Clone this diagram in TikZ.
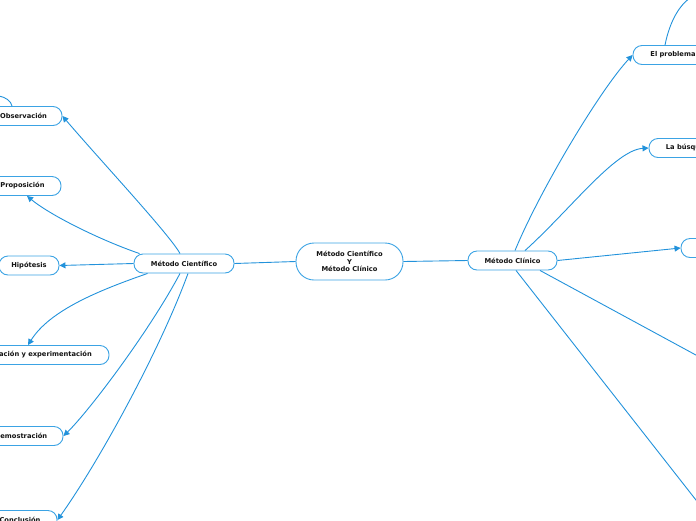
\documentclass[tikz,border=0pt]{standalone}
\usepackage{fontspec}
\setmainfont{DejaVu Sans}
\usetikzlibrary{arrows.meta,calc}
\definecolor{edgeblue}{RGB}{34,146,219}
\definecolor{boxblue}{RGB}{59,163,228}
\definecolor{txt}{RGB}{20,20,20}
\tikzset{
  mbox/.style={draw=boxblue, line width=0.9pt, fill=white, rounded corners=9pt,
    minimum height=19pt, inner sep=0pt, text=txt,
    font=\fontsize{6.7}{7.6}\selectfont\bfseries},
  link/.style={draw=edgeblue, line width=0.9pt},
  arr/.style={link, -{Triangle[length=6pt,width=6pt]}},
}
\begin{document}
\begin{tikzpicture}[x=1pt,y=-1pt]
\useasboundingbox (0,0) rectangle (696,520);
\begin{scope}
\clip (0,0) rectangle (696,520);
% nodes
\node[mbox, minimum width=107pt, minimum height=37pt, rounded corners=18pt, align=center] (center) at (349.5,261.5) {Método Científico\\Y\\Método Clínico};
\node[mbox, minimum width=100pt] (mcient) at (184,263.5) {Método Científico};
\node[mbox, minimum width=89pt] (mclin) at (512.5,260.5) {Método Clínico};
% left branch
\node[mbox, minimum width=77pt] (obs) at (23.5,116) {Observación};
\node[mbox, minimum width=77pt] (prop) at (22.5,186) {Proposición};
\node[mbox, minimum width=60pt] (hip) at (29,265.5) {Hipótesis};
\node[mbox, minimum width=151pt] (verif) at (33.5,355) {Verificación y experimentación};
\node[mbox, minimum width=84pt] (demo) at (21,436) {Demostración};
\node[mbox, minimum width=74pt] (concl) at (20,520) {Conclusión};
% right branch
\node[mbox, minimum width=80pt] (prob) at (673,55) {El problema};
\node[mbox, minimum width=82pt] (busq) at (690,148) {La búsqueda};
\node[mbox, minimum width=80pt] (third) at (721,248) {};
\coordinate (r4) at (706,360.5);
\coordinate (r5) at (706,512.8);
\coordinate (probup) at (690,-2);
\coordinate (obsup) at (-2,96);
% connectors
\draw[link] (center.west) -- (mcient.east);
\draw[link] (center.east) -- (mclin.west);
\draw[arr] ([xshift=-4pt]mcient.north) .. controls (170,235) and (100,160) .. (obs.east);
\draw[arr] ([xshift=6pt]mcient.north west) .. controls (100,240) and (50,215) .. ([xshift=4.5pt]prop.south);
\draw[arr] (mcient.west) -- (hip.east);
\draw[arr] ([xshift=14pt]mcient.south west) .. controls (100,290) and (50,310) .. ([xshift=-5.5pt]verif.north);
\draw[arr] ([xshift=-4pt]mcient.south) .. controls (150,330) and (90,410) .. (demo.east);
\draw[arr] ([xshift=4pt]mcient.south) .. controls (160,350) and (100,460) .. (concl.east);
\draw[arr] ([xshift=2.5pt]mclin.north) .. controls (540,190) and (600,90) .. (prob.west);
\draw[arr] ([xshift=12.5pt]mclin.north) .. controls (570,210) and (615,150) .. (busq.west);
\draw[arr] (mclin.east) -- (third.west);
\draw[link] ([xshift=27.5pt]mclin.south) -- (r4);
\draw[link] ([xshift=3.5pt]mclin.south) -- (r5);
\draw[link] ([xshift=-8pt]prob.north) .. controls (670,20) and (680,5) .. (probup);
\draw[link] (obsup) .. controls (6,97) and (11,101) .. ([xshift=-11.5pt]obs.north);
\end{scope}
\end{tikzpicture}
\end{document}
